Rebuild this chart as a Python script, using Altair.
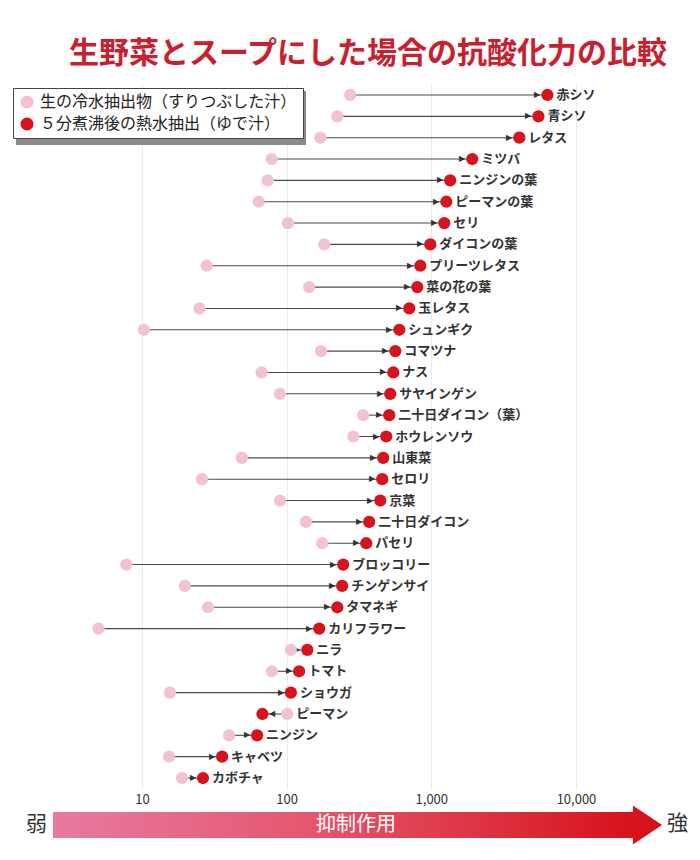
import altair as alt
import pandas as pd

# ---------------------------------------------------------------------------
# Data (log scale)
# ---------------------------------------------------------------------------

names = [
    "赤シソ", "青シソ", "レタス", "ミツバ", "ニンジンの葉", "ピーマンの葉", "セリ",
    "ダイコンの葉", "プリーツレタス", "菜の花の葉", "玉レタス", "シュンギク", "コマツナ",
    "ナス", "サヤインゲン", "二十日ダイコン（葉）", "ホウレンソウ", "山東菜", "セロリ",
    "京菜", "二十日ダイコン", "パセリ", "ブロッコリー", "チンゲンサイ", "タマネギ",
    "カリフラワー", "ニラ", "トマト", "ショウガ", "ピーマン", "ニンジン", "キャベツ",
    "カボチャ",
]
raw = [
    275, 224, 171, 79, 74, 64, 102, 182, 28, 143, 25, 10.3, 173, 67, 90, 338, 289,
    49, 26, 90, 136, 176, 7.8, 19.8, 28.6, 5.0, 107, 79, 15.6, 101, 40, 15.4, 18.9,
]
boiled = [
    6350, 5500, 4060, 1920, 1350, 1270, 1230, 984, 840, 800, 704, 601, 564, 546,
    520, 512, 488, 465, 458, 444, 372, 355, 246, 242, 224, 168, 139, 122, 107, 68,
    62.5, 35.8, 26.4,
]
tick_values = [10, 100, 1000, 10000]

TITLE = "生野菜とスープにした場合の抗酸化力の比較"
RAW_LABEL = "生の冷水抽出物（すりつぶした汁）"
BOILED_LABEL = "５分煮沸後の熱水抽出（ゆで汁）"

FONT = "Noto Sans CJK JP"
PINK = "#f2c2d2"
RED = "#d7141e"

# ---------------------------------------------------------------------------
# Tables
# ---------------------------------------------------------------------------

wide = pd.DataFrame({"name": names, "raw": raw, "boiled": boiled})
wide["label_x"] = wide[["raw", "boiled"]].max(axis=1)

long = pd.concat([
    pd.DataFrame({"name": names, "value": raw, "series": RAW_LABEL}),
    pd.DataFrame({"name": names, "value": boiled, "series": BOILED_LABEL}),
])

W, H = 670, 705

x_scale = alt.Scale(type="log", domain=[1.435, 61400], nice=False)
x_axis = alt.Axis(
    values=tick_values, format=",", grid=True, gridColor="#ebebeb",
    gridWidth=1, domain=False, ticks=False, labelFont=FONT,
    labelFontSize=13, labelColor="#333333", labelPadding=4, title=None,
)
y_enc = alt.Y("name:N", sort=names, axis=None,
              scale=alt.Scale(type="point", padding=0.515))


def xq(field):
    return alt.X(f"{field}:Q", scale=x_scale, axis=x_axis, title=None)


base = alt.Chart(wide)

lines = base.mark_rule(color="#4a4a4a", strokeWidth=1.1).encode(
    x=xq("raw"), x2="boiled:Q", y=y_enc
)

heads_right = base.transform_filter("datum.boiled > datum.raw").mark_text(
    text="▶", fontSize=8, color="#333333", dx=-10, baseline="middle"
).encode(x=xq("boiled"), y=y_enc)

heads_left = base.transform_filter("datum.boiled < datum.raw").mark_text(
    text="◀", fontSize=8, color="#333333", dx=10, baseline="middle"
).encode(x=xq("boiled"), y=y_enc)

dots = alt.Chart(long).mark_circle(size=150, opacity=1).encode(
    x=xq("value"),
    y=y_enc,
    color=alt.Color(
        "series:N",
        scale=alt.Scale(domain=[RAW_LABEL, BOILED_LABEL], range=[PINK, RED]),
        legend=alt.Legend(
            orient="none", legendX=-7, legendY=4, title=None,
            strokeColor="#444444", fillColor="white", padding=6,
            labelFont=FONT, labelFontSize=16, labelColor="#222222",
            labelLimit=400, labelOffset=5, symbolSize=170,
            symbolType="circle", symbolStrokeWidth=0, rowPadding=6,
        ),
    ),
    order=alt.Order("series:N", sort="descending"),
)

labels = base.mark_text(
    align="left", baseline="middle", dx=9, font=FONT, fontSize=13,
    fontWeight="bold", color="#333333",
).encode(x=xq("label_x"), y=y_enc, text="name:N")

# ---------------------------------------------------------------------------
# Legend shadow and bottom "抑制作用" arrow
# ---------------------------------------------------------------------------

one = pd.DataFrame({"k": [0]})

shadow = alt.Chart(one).mark_rect(color="#8a8a8a").encode(
    x=alt.value(-4), x2=alt.value(286), y=alt.value(7), y2=alt.value(61)
)

gradient = alt.Gradient(
    gradient="linear", x1=0, x2=1, y1=0, y2=0,
    stops=[
        alt.GradientStop(color="#e77aa2", offset=0),
        alt.GradientStop(color="#e5566d", offset=0.45),
        alt.GradientStop(color="#d7121b", offset=1),
    ],
)
bar = alt.Chart(one).mark_rect(fill=gradient).encode(
    x=alt.value(33), x2=alt.value(614), y=alt.value(728), y2=alt.value(754)
)
head = alt.Chart(one).mark_point(
    shape="M-0.75,-1L0.75,0L-0.75,1Z", size=1521, filled=True,
    color="#d7121b", opacity=1, strokeWidth=0,
).encode(x=alt.value(627.5), y=alt.value(741))

word = alt.Chart(one).mark_text(
    text="抑制作用", font=FONT, fontSize=20, color="white", baseline="middle"
).encode(x=alt.value(336), y=alt.value(741))
weak = alt.Chart(one).mark_text(
    text="弱", font=FONT, fontSize=21, color="#333333", baseline="middle"
).encode(x=alt.value(16.5), y=alt.value(741))
strong = alt.Chart(one).mark_text(
    text="強", font=FONT, fontSize=21, color="#333333", baseline="middle"
).encode(x=alt.value(657.5), y=alt.value(740))

chart = (
    alt.layer(shadow, lines, heads_right, heads_left, dots, labels,
              bar, head, word, weak, strong)
    .properties(
        width=W, height=H,
        view=alt.ViewBackground(stroke="transparent", strokeWidth=0),
        title=alt.TitleParams(
            TITLE, font=FONT, fontSize=30, fontWeight="bold",
            color="#c9202f", anchor="middle", dx=13, offset=15,
        ),
        padding={"left": 12, "top": 76, "right": 0, "bottom": 60},
        autosize=alt.AutoSizeParams(type="none"),
    )
    .configure_view(stroke="transparent", strokeWidth=0)
    .configure_axis(domain=False, ticks=False)
    .configure(background="white")
)

chart.save("out.html", embed_options={"renderer": "svg", "actions": False})
